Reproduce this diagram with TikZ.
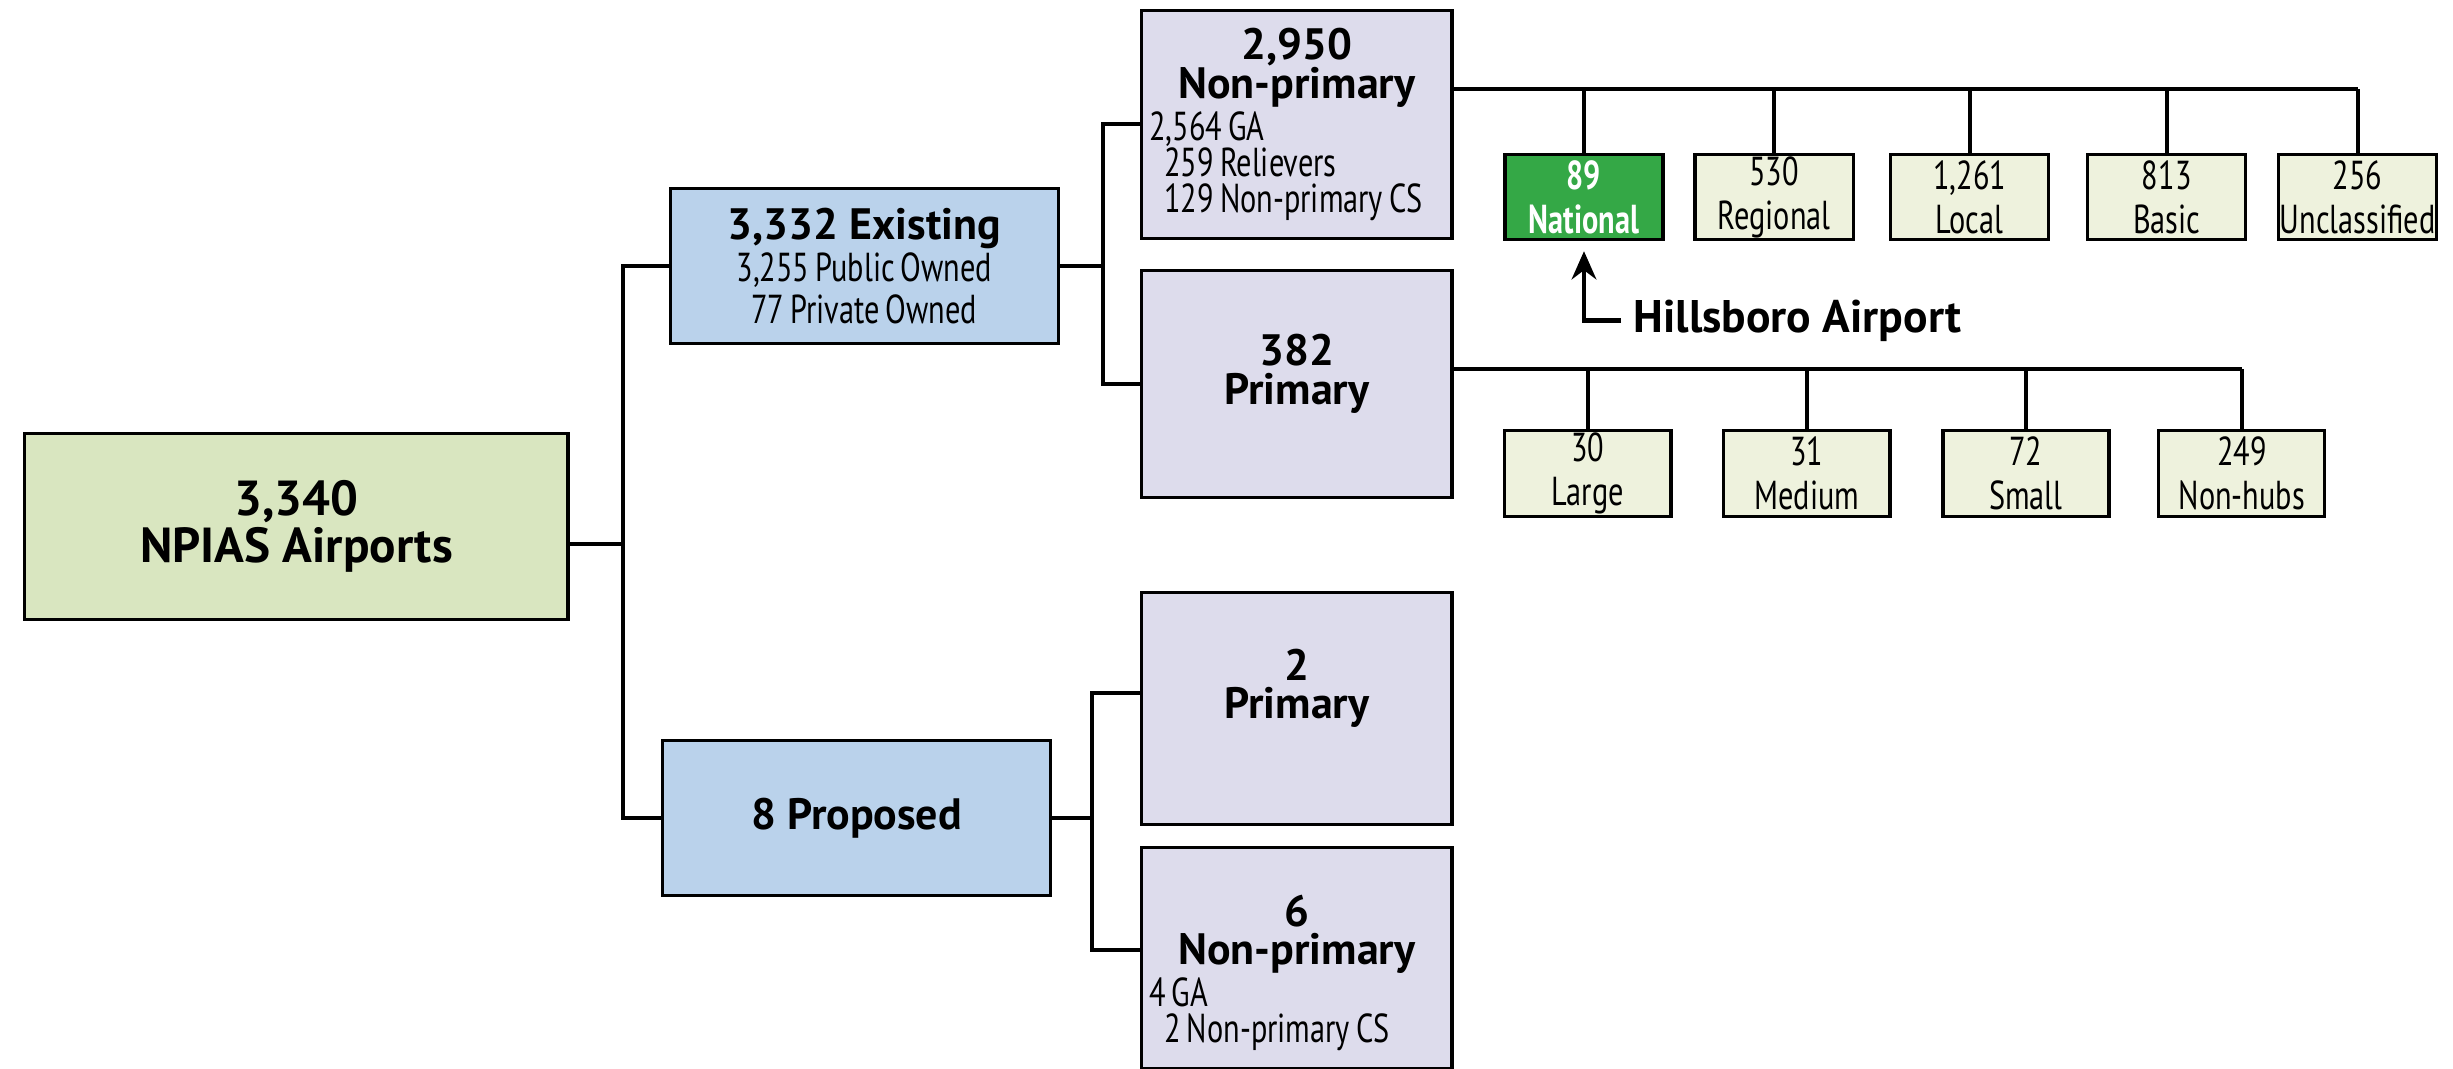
\documentclass[tikz,border=0pt]{standalone}
\usepackage{fontspec}
\setmainfont{PT Sans}
\newfontfamily\etroit[FakeStretch=0.75, WordSpace=0.75]{PT Sans}
\usetikzlibrary{arrows.meta}

\definecolor{vertclair}{HTML}{D9E6C0}
\definecolor{bleuclair}{HTML}{BAD2EB}
\definecolor{lavande}{HTML}{DDDCEC}
\definecolor{jaunepale}{HTML}{EEF2DD}
\definecolor{vertvif}{HTML}{34A846}

\newcommand\grandtitre{\normalfont\bfseries\fontsize{14}{13.5}\selectfont}
\newcommand\titre{\normalfont\bfseries\fontsize{12.5}{13}\selectfont}
\newcommand\sous{\etroit\fontsize{11.5}{12.5}\selectfont}
\newcommand\serre{\etroit\fontsize{11.5}{10.2}\selectfont\lineskiplimit=-6pt\relax}
\newcommand\cadre{\fontsize{12.5}{11}\selectfont\lineskiplimit=-6pt\relax}

\begin{document}
\begin{tikzpicture}[x=0.015645cm, y=-0.015645cm]
	\tikzset{boite/.style={draw=black, line width=0.9pt, inner sep=0pt, align=center},
	racine/.style={boite, fill=vertclair, minimum width=5.43cm, minimum height=1.86cm, font=\fontsize{14}{13.5}\selectfont},
	branche/.style={boite, fill=bleuclair, minimum width=3.88cm, minimum height=1.55cm},
	categorie/.style={boite, fill=lavande, minimum width=3.10cm, minimum height=2.28cm, font=\cadre},
	liste/.style={text width=2.95cm, align=flush left, font=\serre},
	feuille/.style={boite, fill=jaunepale, minimum width=1.58cm, minimum height=0.85cm, font=\sous},
	lien/.style={line width=1.1pt},
	fleche/.style={line width=1.3pt, -{Stealth[length=8pt, width=7pt]}, shorten >=0.1cm}}

	\useasboundingbox (0,0) rectangle (1568,683);

	% niveau 1 et 2
	\node[racine] (npias) at (189.5,336.5) {{\grandtitre 3,340}\\{\grandtitre NPIAS Airports}};
	\node[branche] (existant) at (552.5,170) {{\titre 3,332 Existing}\\{\sous 3,255 Public Owned}\\{\sous 77 Private Owned}};
	\node[branche] (propose) at (547.5,523) {{\titre 8 Proposed}};

	\coordinate (tronc) at (398,348);
	\draw[lien] (npias.east |- tronc) -- (tronc);
	\draw[lien] (existant.west) -- (existant.west -| tronc) -- (propose.west -| tronc) -- (propose.west);

	% categories
	\node[categorie, liste] (nonprim) at (829,79.5)
		{\makebox[\linewidth]{\titre 2,950}\\[0.8pt]\makebox[\linewidth]{\titre Non-primary}\\[1.8pt]2,564 GA\\\hspace*{0.15cm}259 Relievers\\\hspace*{0.15cm}129 Non-primary CS};
	\node[categorie, minimum height=2.27cm, text depth=0.3cm] (primaire) at (829,245.5) {{\titre 382}\\{\titre Primary}};
	\node[categorie, minimum height=2.32cm, text depth=0.5cm] (prim2) at (829,453) {{\titre 2}\\{\titre Primary}};
	\node[categorie, minimum height=2.21cm, liste] (nonprim6) at (829,612.5)
		{\makebox[\linewidth]{\titre\rule{0pt}{0.6cm}6}\\[0.6pt]\makebox[\linewidth]{\titre Non-primary}\\[1.8pt]4 GA\\\hspace*{0.15cm}2 Non-primary CS};

	\coordinate (j-exist) at (705,0);
	\coordinate (j-prop) at (698,0);
	\draw[lien] (existant.east) -- (existant.east -| j-exist);
	\draw[lien] (nonprim.west) -- (nonprim.west -| j-exist) -- (primaire.west -| j-exist) -- (primaire.west);
	\draw[lien] (propose.east) -- (propose.east -| j-prop);
	\draw[lien] ([yshift=0.16cm]prim2.west) -- ([yshift=0.16cm]prim2.west -| j-prop) -- ([yshift=0.08cm]nonprim6.west -| j-prop) -- ([yshift=0.08cm]nonprim6.west);

	% non-primary
	\coordinate (barre-np) at (0,57);
	\node[feuille, fill=vertvif, text=white, font=\sous\bfseries] (national) at (1012.5,126) {89\\National};
	\draw[lien] (national.north) -- (national.north |- barre-np);
	\foreach \nom/\x/\nb/\lib in {regional/1134/530/Regional, local/1259/{1,261}/Local, basic/1385/813/Basic, unclass/1507/256/Unclassified}{
		\node[feuille] (\nom) at (\x,126) {\nb\\\lib};
		\draw[lien] (\nom.north) -- (\nom.north |- barre-np);
	}
	\draw[lien] (nonprim.east |- barre-np) -- (unclass.north |- barre-np);

	\node[font=\bfseries\fontsize{13}{15}\selectfont] (hills) at (1149,205) {Hillsboro Airport};
	\draw[fleche] (hills.west) -| (national.south);

	% primary
	\coordinate (barre-p) at (0,236);
	\foreach \nom/\x/\nb/\lib in {large/1015/30/Large, medium/1155/31/Medium, small/1295/72/Small, nonhubs/1433/249/Non-hubs}{
		\node[feuille, minimum width=1.66cm, minimum height=0.86cm] (\nom) at (\x,302.5) {\nb\\\lib};
		\draw[lien] (\nom.north) -- (\nom.north |- barre-p);
	}
	\draw[lien] (primaire.east |- barre-p) -- (nonhubs.north |- barre-p);

\end{tikzpicture}
\end{document}
